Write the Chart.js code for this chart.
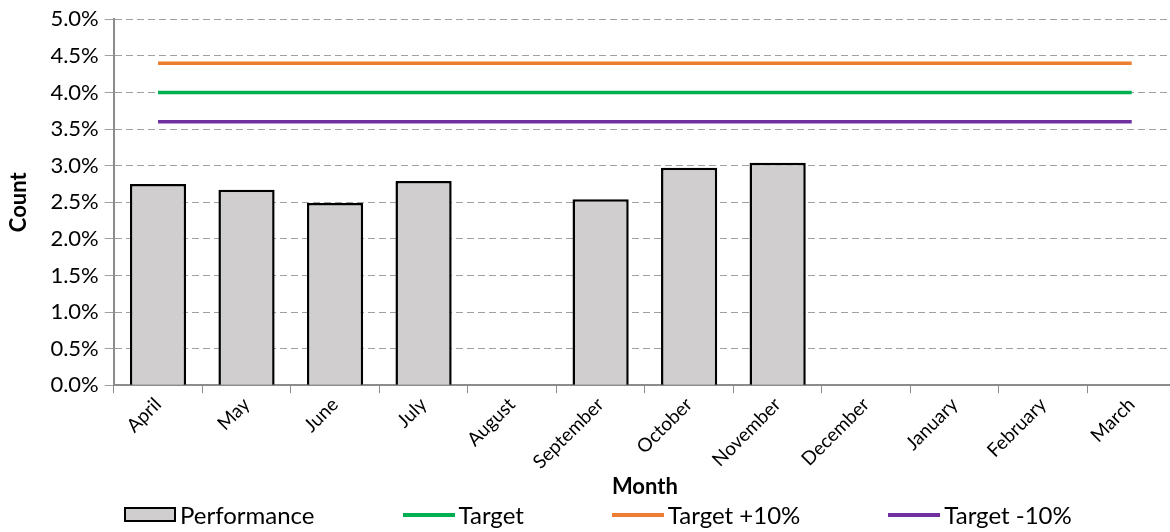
<!DOCTYPE html>
<html>
<head>
<meta charset="utf-8">
<script src="https://cdn.jsdelivr.net/npm/chart.js@4"></script>
<style>
  html, body { margin: 0; padding: 0; background: #fff; overflow: hidden; }
  /* plot area runs off the right edge in the original, so the canvas is a bit wider than the window */
  #wrap { width: 1170px; height: 532px; overflow: hidden; position: relative; }
  #box  { width: 1176px; height: 532px; position: relative; }
  #legend {
    position: absolute; left: 124px; top: 500px;
    display: flex; align-items: center; gap: 88px;
    font-family: Lato, "Open Sans", sans-serif; font-size: 24px; color: #000;
    white-space: nowrap;
  }
  #legend .item { display: flex; align-items: center; gap: 4px; }
  #legend .sw   { width: 52px; box-sizing: border-box; }
</style>
</head>
<body>
<div id="wrap">
  <div id="box"><canvas id="perfChart"></canvas></div>
  <div id="legend"></div>
</div>
<script>
/* ── DATA ── */
const months      = ['April','May','June','July','August','September','October','November','December','January','February','March'];
const performance = [2.75, 2.67, 2.49, 2.79, null, 2.54, 2.97, 3.04, null, null, null, null];
const target      = [4.0, 4.0, 4.0, 4.0, 4.0, 4.0, 4.0, 4.0, 4.0, 4.0, 4.0, 4.0];
const targetPlus  = [4.4, 4.4, 4.4, 4.4, 4.4, 4.4, 4.4, 4.4, 4.4, 4.4, 4.4, 4.4];
const targetMinus = [3.6, 3.6, 3.6, 3.6, 3.6, 3.6, 3.6, 3.6, 3.6, 3.6, 3.6, 3.6];
const yTicks      = [0, 0.5, 1, 1.5, 2, 2.5, 3, 3.5, 4, 4.5, 5];

const FONT     = 'Lato, "Open Sans", sans-serif';
const BAR_FILL = '#D0CECE';
const AXIS_CLR = '#8c8c8c';

const lineDs = (label, data, color) => ({
  type: 'line',
  label,
  data,
  borderColor: color,
  backgroundColor: color,
  borderWidth: 3.5,
  pointRadius: 0,
  fill: false,
  order: 0,
});

const chart = new Chart(document.getElementById('perfChart'), {
  data: {
    labels: months,
    datasets: [
      {
        type: 'bar',
        label: 'Performance',
        data: performance,
        backgroundColor: BAR_FILL,
        borderColor: '#000',
        borderWidth: 2.5,
        barPercentage: 0.635,
        categoryPercentage: 1,
        order: 1,
      },
      lineDs('Target',      target,      '#00B050'),
      lineDs('Target +10%', targetPlus,  '#ED7D31'),
      lineDs('Target -10%', targetMinus, '#7030A0'),
    ],
  },
  options: {
    responsive: true,
    maintainAspectRatio: false,
    animation: false,
    layout: { padding: { top: 9, right: 0, left: 6, bottom: 32 } },
    plugins: {
      tooltip: { enabled: false },
      legend: { display: false },   // drawn as HTML below (Chart.js legend padding also pads vertically)
    },
    scales: {
      x: {
        offset: true,
        grid: { offset: true, drawOnChartArea: false, color: AXIS_CLR, tickLength: 8 },
        border: { color: AXIS_CLR, width: 2 },
        ticks: { color: '#000', maxRotation: 45, minRotation: 45, font: { family: FONT, size: 19 }, padding: 0 },
        title: { display: true, text: 'Month', color: '#000', font: { family: FONT, size: 22, weight: 'bold' }, padding: { top: 0, bottom: 0 } },
      },
      y: {
        min: 0,
        max: 5,
        afterBuildTicks: axis => { axis.ticks = yTicks.map(v => ({ value: v })); },
        grid: { color: '#a0a0a0', tickLength: 9, lineWidth: 1 },
        border: { color: AXIS_CLR, width: 2, dash: [7, 4] },
        ticks: { color: '#000', font: { family: FONT, size: 22 }, padding: 6, callback: v => v.toFixed(1) + '%' },
        title: { display: true, text: 'Count', color: '#000', font: { family: FONT, size: 22, weight: 'bold' }, padding: { top: 0, bottom: 12 } },
      },
    },
  },
});

/* ── HTML legend built from the datasets ── */
const legendEl = document.getElementById('legend');
legendEl.innerHTML = chart.data.datasets.map(ds => {
  const sw = ds.type === 'bar'
    ? `<span class="sw" style="height:15px;background:${ds.backgroundColor};border:2.5px solid ${ds.borderColor}"></span>`
    : `<span class="sw" style="height:4px;background:${ds.borderColor}"></span>`;
  return `<span class="item">${sw}<span>${ds.label}</span></span>`;
}).join('');
</script>
</body>
</html>
